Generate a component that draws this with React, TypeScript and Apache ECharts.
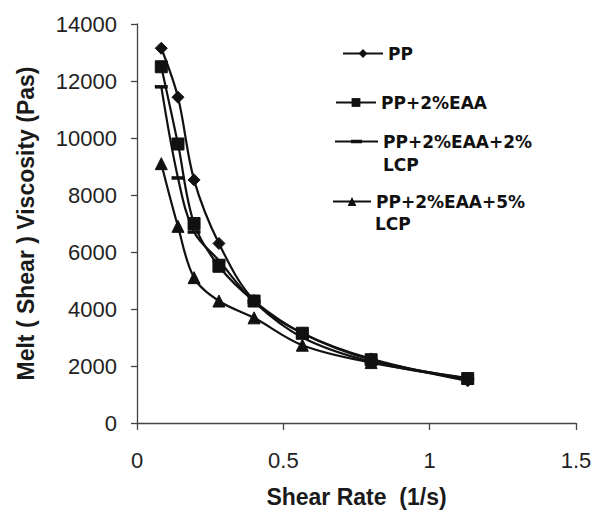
import React, { useEffect, useRef } from "react";
import * as echarts from "echarts";

const shearRate = [0.083, 0.14, 0.195, 0.28, 0.4, 0.565, 0.8, 1.13];
const ppValues = [13150, 11430, 8530, 6300, 4300, 3150, 2250, 1480];
const eaaValues = [12500, 9790, 7000, 5500, 4280, 3150, 2220, 1560];
const lcp2Values = [11800, 8600, 6700, 5700, 4250, 3000, 2150, 1550];
const lcp5Values = [9100, 6900, 5100, 4280, 3690, 2730, 2120, 1580];

const seriesNames = ["PP", "PP+2%EAA", "PP+2%EAA+2%", "PP+2%EAA+5%"];
const xTickLabels = ["0", "0.5", "1", "1.5"];
const yTickLabels = ["0", "2000", "4000", "6000", "8000", "10000", "12000", "14000"];

const pair = (vals: number[]) => shearRate.map((x, i) => [x, vals[i]]);

export default function App() {
  const ref = useRef<HTMLDivElement>(null);
  useEffect(() => {
    if (!ref.current) return;
    const chart = echarts.init(ref.current, undefined, { renderer: "svg" });
    const lineStyle = { color: "#111", width: 2.2 };
    const mk = (name: string, vals: number[], symbol: any, size: any) => ({
      type: "line",
      name,
      data: pair(vals),
      smooth: 0.35,
      symbol,
      symbolSize: size,
      showSymbol: true,
      lineStyle,
      itemStyle: { color: "#111", borderColor: "#111" },
      z: 3,
    });
    const legendText = {
      fontFamily: "DejaVu Sans",
      fontWeight: "bold" as const,
      fontSize: 17,
      color: "#111",
    };
    const legendBase = {
      orient: "horizontal",
      padding: 0,
      itemHeight: 11,
      selectedMode: false,
      textStyle: legendText,
    };
    const dashLegendIcon = "path://M0,4.5L43,4.5L43,6.5L0,6.5Z M16,3.8L27,3.8L27,7.2L16,7.2Z";
    chart.setOption({
      animation: false,
      backgroundColor: "#fff",
      grid: { left: 137, right: 19, top: 24, bottom: 88 },
      xAxis: {
        type: "value",
        min: 0,
        max: 1.5,
        interval: 0.5,
        name: "Shear Rate  (1/s)",
        nameLocation: "middle",
        nameGap: 62,
        nameTextStyle: { fontFamily: "Liberation Sans", fontWeight: "bold", fontSize: 23, color: "#1a1a1a" },
        axisLine: { lineStyle: { color: "#444", width: 1.3 } },
        axisTick: { show: true, length: 7, lineStyle: { color: "#444", width: 1.3 } },
        axisLabel: {
          margin: 26,
          fontFamily: "Liberation Sans",
          fontSize: 22,
          color: "#222",
          formatter: (v: number) => xTickLabels[Math.round(v / 0.5)] ?? String(v),
        },
        splitLine: { show: false },
      },
      yAxis: {
        type: "value",
        min: 0,
        max: 14000,
        interval: 2000,
        name: "Melt ( Shear ) Viscosity (Pas)",
        nameLocation: "middle",
        nameGap: 100,
        nameTextStyle: { fontFamily: "Liberation Sans", fontWeight: "bold", fontSize: 23, color: "#1a1a1a" },
        axisLine: { show: true, lineStyle: { color: "#444", width: 1.3 } },
        axisTick: { show: true, length: 6, lineStyle: { color: "#444", width: 1.3 } },
        axisLabel: {
          margin: 20,
          fontFamily: "Liberation Sans",
          fontSize: 22,
          color: "#222",
          formatter: (v: number) => yTickLabels[Math.round(v / 2000)] ?? String(v),
        },
        splitLine: { show: false },
      },
      legend: [
        { ...legendBase, data: [seriesNames[0]], left: 342, top: 45, itemWidth: 40 },
        { ...legendBase, data: [seriesNames[1]], left: 335, top: 94, itemWidth: 40 },
        { ...legendBase, data: [{ name: seriesNames[2], icon: dashLegendIcon }], left: 335, top: 133, itemWidth: 43 },
        { ...legendBase, data: [seriesNames[3]], left: 332, top: 193, itemWidth: 38 },
      ],
      graphic: [
        { type: "text", left: 383, top: 156, style: { text: "LCP", fill: "#111", font: "bold 17px 'DejaVu Sans'" } },
        { type: "text", left: 375, top: 215, style: { text: "LCP", fill: "#111", font: "bold 17px 'DejaVu Sans'" } },
      ],
      series: [
        mk(seriesNames[0], ppValues, "diamond", 12),
        mk(seriesNames[1], eaaValues, "rect", 12),
        mk(seriesNames[2], lcp2Values, "rect", [11, 3]),
        mk(seriesNames[3], lcp5Values, "triangle", 12),
      ],
    });
    return () => chart.dispose();
  }, []);
  return <div ref={ref} style={{ width: 595, height: 513, position: "absolute", left: 0, top: 0 }} />;
}
